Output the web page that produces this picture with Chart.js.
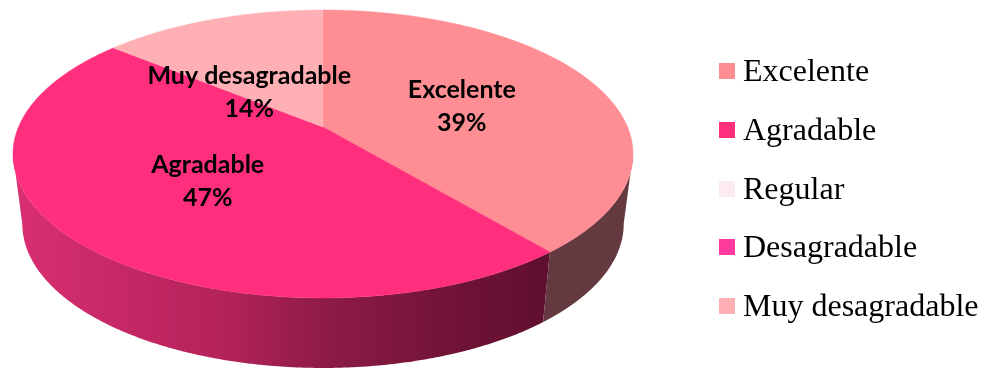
<!DOCTYPE html>
<html>
<head>
<meta charset="utf-8">
<style>
  html, body { margin: 0; background: #fff; overflow: hidden; }
  #wrap { position: relative; width: 987px; height: 368px; }
  #legend { position: absolute; left: 719px; top: 41px; font-family: "Liberation Serif", serif; font-size: 32px; color: #000; }
  #legend div { position: relative; height: 58.75px; line-height: 58.75px; padding-left: 24px; white-space: nowrap; }
  #legend i { position: absolute; left: 0; top: 22px; width: 16px; height: 16px; }
</style>
</head>
<body>
<div id="wrap">
  <canvas id="myChart" width="987" height="368"></canvas>
  <div id="legend"></div>
</div>
<script src="https://cdn.jsdelivr.net/npm/chart.js@4"></script>
<script>
const categories = ['Excelente', 'Agradable', 'Regular', 'Desagradable', 'Muy desagradable'];
const percentages = [39, 47, 0, 0, 14];
const sliceColors = ['#ff8d94', '#ff2f7d', '#feeaf3', '#ff3a9d', '#ffb0b5'];
const wallColors = ['#643a40', null, '#a08f96', '#a0245f', '#a06f72'];

// tilted disc: unit circle seen in perspective
const disc = { cx: 323, cy: 127, a: 304.5, b: 138.9, k: -0.1875, depth: 70, shrink: 0.97 };
// the small slice has its label pulled down towards the middle
const labelNudge = [[0, 2], [0, 1], [0, 0], [0, 0], [-14, 23]];

function project(theta, r) {
    const x = Math.sin(theta) * r;
    const y = -Math.cos(theta) * r;
    const w = 1 + disc.k * y;
    return { x: disc.cx + disc.a * x / w, y: disc.cy + disc.b * y / w };
}

function lower(p) {
    return { x: disc.cx + (p.x - disc.cx) * disc.shrink, y: p.y + disc.depth };
}

function rim(from, to) {
    const pts = [];
    const n = Math.max(2, Math.ceil(Math.abs(to - from) / 0.005));
    for (let i = 0; i <= n; i++) {
        pts.push(project(from + (to - from) * i / n, 1));
    }
    return pts;
}

function trace(ctx, pts) {
    pts.forEach((p, i) => i ? ctx.lineTo(p.x, p.y) : ctx.moveTo(p.x, p.y));
}

const perspectivePie = {
    id: 'perspectivePie',
    beforeDatasetsDraw(chart) {
        const ctx = chart.ctx;
        const arcs = chart.getDatasetMeta(0).data;
        // only this part of the rim faces the viewer
        const frontFrom = Math.acos(disc.k);
        const frontTo = Math.PI * 2 - frontFrom;

        const shade = ctx.createLinearGradient(13, 0, 545, 0);
        shade.addColorStop(0, '#d92f72');
        shade.addColorStop(0.2, '#c62866');
        shade.addColorStop(0.4, '#b32359');
        shade.addColorStop(0.58, '#8f1b48');
        shade.addColorStop(0.8, '#741438');
        shade.addColorStop(1, '#5f0f30');

        arcs.forEach((arc, i) => {
            if (!percentages[i]) return;
            const start = arc.startAngle + Math.PI / 2;
            const end = arc.endAngle + Math.PI / 2;
            const from = Math.max(start, frontFrom);
            const to = Math.min(end, frontTo);
            if (to <= from) return;
            const top = rim(from, to);
            ctx.beginPath();
            trace(ctx, top.concat(top.slice().reverse().map(lower)));
            ctx.closePath();
            ctx.fillStyle = wallColors[i] || shade;
            ctx.fill();
        });

        arcs.forEach((arc, i) => {
            if (!percentages[i]) return;
            const start = arc.startAngle + Math.PI / 2;
            const end = arc.endAngle + Math.PI / 2;
            ctx.beginPath();
            trace(ctx, [{ x: disc.cx, y: disc.cy }].concat(rim(start, end)));
            ctx.closePath();
            ctx.fillStyle = sliceColors[i];
            ctx.strokeStyle = sliceColors[i];
            ctx.lineWidth = 0.5;
            ctx.fill();
            ctx.stroke();
        });

        ctx.fillStyle = '#000';
        ctx.textAlign = 'center';
        ctx.textBaseline = 'middle';
        ctx.font = 'bold 25px Lato, "Open Sans", sans-serif';
        arcs.forEach((arc, i) => {
            if (!percentages[i]) return;
            const mid = (arc.startAngle + arc.endAngle) / 2 + Math.PI / 2;
            const p = project(mid, 0.5);
            const x = p.x + labelNudge[i][0];
            const y = p.y + labelNudge[i][1];
            ctx.fillText(categories[i], x, y - 16);
            ctx.fillText(percentages[i] + '%', x, y + 17);
        });
        return false;
    }
};

new Chart(document.getElementById('myChart'), {
    type: 'pie',
    data: {
        labels: categories,
        datasets: [{ data: percentages, backgroundColor: sliceColors, borderWidth: 0 }]
    },
    options: {
        responsive: false,
        animation: false,
        plugins: { legend: { display: false }, tooltip: { enabled: false } }
    },
    plugins: [perspectivePie]
});

const legend = document.getElementById('legend');
categories.forEach((name, i) => {
    const row = document.createElement('div');
    const box = document.createElement('i');
    box.style.background = sliceColors[i];
    row.appendChild(box);
    row.appendChild(document.createTextNode(name));
    legend.appendChild(row);
});
</script>
</body>
</html>
